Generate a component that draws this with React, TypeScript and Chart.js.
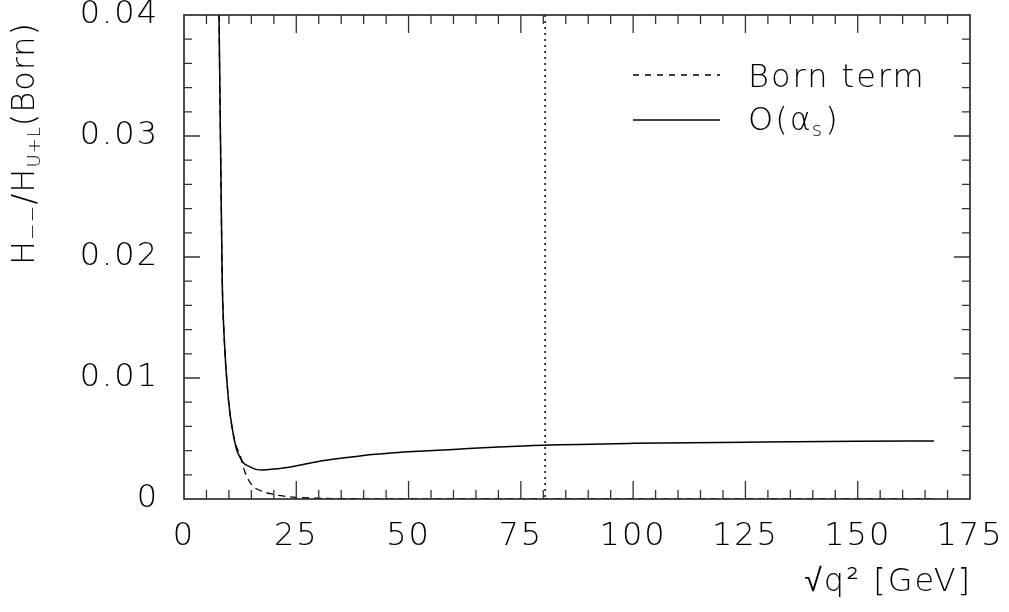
import React, { useEffect, useRef } from 'react';
import { Chart, registerables } from 'chart.js';

Chart.register(...registerables);

// ---- data ----
const bornX = [7.6, 7.8, 8.2, 8.5, 8.9, 9.9, 10.9, 11.7, 12.4, 13.5, 15, 17, 19.7, 22, 25, 30, 35, 40, 50, 60, 80, 100, 125, 150, 167];
const bornY = [0.05, 0.04, 0.0274, 0.0183, 0.0137, 0.0082, 0.0055, 0.0043, 0.0037, 0.0023, 0.0012, 0.0007, 0.0004, 0.00025, 0.00014, 0.00006, 0.00003, 0.00001, 0, 0, 0, 0, 0, 0, 0];

const nloX = [7.6, 7.8, 8.2, 8.5, 8.9, 9.9, 10.9, 11.7, 12.4, 13.2, 14.5, 16, 17.6, 20, 23, 26.5, 30, 34, 40, 46, 50, 60, 70, 80, 100, 125, 150, 167];
const nloY = [0.05, 0.04, 0.0274, 0.0183, 0.0137, 0.0082, 0.0055, 0.0041, 0.0035, 0.0030, 0.0027, 0.00245, 0.0024, 0.00247, 0.0026, 0.00285, 0.0031, 0.00332, 0.0036, 0.0038, 0.0039, 0.0041, 0.0043, 0.00445, 0.0046, 0.0047, 0.00478, 0.0048];

const xMin = 0;
const xMax = 175;
const xMajorStep = 25;
const xMinorStep = 5;
const yMin = 0;
const yMax = 0.04;
const yMajorStep = 0.01;
const yMinorStep = 0.002;
const wMass = 80.4;

const seriesLabels = ['Born term', 'O(αs)'];
const xTitle = '√q² [GeV]';

const FONT_FAMILY = '"DejaVu Sans", "Liberation Sans", sans-serif';
const FONT_WEIGHT = '200';
const font = (size: number) => `${FONT_WEIGHT} ${size}px ${FONT_FAMILY}`;

const spacingPlugin = {
  id: 'spacing',
  beforeDraw(chart: any) {
    (chart.ctx as any).letterSpacing = '2px';
  },
};

const decorPlugin = {
  id: 'decor',
  afterDatasetsDraw(chart: any) {
    const { ctx, chartArea } = chart;
    const { left, right, top, bottom } = chartArea;
    const xs = chart.scales.x;
    const ys = chart.scales.y;
    ctx.save();

    // W mass dotted line
    ctx.strokeStyle = '#000';
    ctx.lineWidth = 1.5;
    ctx.setLineDash([2, 4]);
    const wx = xs.getPixelForValue(wMass);
    ctx.beginPath();
    ctx.moveTo(wx, top);
    ctx.lineTo(wx, bottom);
    ctx.stroke();
    ctx.setLineDash([]);

    // frame
    ctx.strokeStyle = '#222';
    ctx.lineWidth = 1.6;
    ctx.strokeRect(left, top, right - left, bottom - top);

    // ticks
    ctx.lineWidth = 1.3;
    ctx.strokeStyle = '#333';
    const nx = Math.round((xMax - xMin) / xMinorStep);
    const perMajorX = Math.round(xMajorStep / xMinorStep);
    for (let i = 1; i < nx; i++) {
      const v = xMin + i * xMinorStep;
      const px = xs.getPixelForValue(v);
      const len = i % perMajorX === 0 ? 18 : 9;
      ctx.beginPath();
      ctx.moveTo(px, bottom);
      ctx.lineTo(px, bottom - len);
      ctx.moveTo(px, top);
      ctx.lineTo(px, top + len);
      ctx.stroke();
    }
    const ny = Math.round((yMax - yMin) / yMinorStep);
    const perMajorY = Math.round(yMajorStep / yMinorStep);
    for (let i = 1; i < ny; i++) {
      const v = yMin + i * yMinorStep;
      const py = ys.getPixelForValue(v);
      const len = i % perMajorY === 0 ? 16 : 8;
      ctx.beginPath();
      ctx.moveTo(left, py);
      ctx.lineTo(left + len, py);
      ctx.moveTo(right, py);
      ctx.lineTo(right - len, py);
      ctx.stroke();
    }

    // legend
    ctx.letterSpacing = '2px';
    ctx.fillStyle = '#000';
    ctx.strokeStyle = '#000';
    ctx.textAlign = 'left';
    ctx.textBaseline = 'alphabetic';
    // Born term
    ctx.lineWidth = 1.3;
    ctx.setLineDash([6, 6]);
    ctx.beginPath();
    ctx.moveTo(633, 75);
    ctx.lineTo(720, 75);
    ctx.stroke();
    ctx.setLineDash([]);
    ctx.font = font(32);
    ctx.fillText(seriesLabels[0], 748, 87);
    // O(alpha_s)
    ctx.lineWidth = 1.5;
    ctx.beginPath();
    ctx.moveTo(633, 120);
    ctx.lineTo(720, 120);
    ctx.stroke();
    let lx = 748;
    const ly = 130;
    ctx.font = font(32);
    ctx.fillText('O(', lx, ly);
    lx += ctx.measureText('O(').width;
    ctx.fillText('α', lx, ly);
    lx += ctx.measureText('α').width - 1;
    ctx.font = font(20);
    ctx.fillText('s', lx, ly + 6);
    lx += ctx.measureText('s').width + 1;
    ctx.font = font(32);
    ctx.fillText(')', lx, ly);

    // x title
    ctx.font = font(32);
    ctx.textAlign = 'right';
    ctx.fillText(xTitle, 972, 591);

    // y title (rotated)
    ctx.save();
    ctx.letterSpacing = '1px';
    ctx.translate(34, 265);
    ctx.rotate(-Math.PI / 2);
    ctx.textAlign = 'left';
    let tx = 0;
    const part = (txt: string, size: number, dy: number) => {
      ctx.font = font(size);
      ctx.fillText(txt, tx, dy);
      tx += ctx.measureText(txt).width;
    };
    part('H', 32, 0);
    part('−−', 20, 5);
    part('/', 32, 0);
    part('H', 32, 0);
    part('U+L', 18, 6);
    part('(Born)', 32, 0);
    ctx.restore();

    ctx.restore();
  },
};

export default function App() {
  const ref = useRef<HTMLCanvasElement | null>(null);
  useEffect(() => {
    if (!ref.current) return;
    const bornData = bornX.map((x, i) => ({ x, y: bornY[i] }));
    const nloData = nloX.map((x, i) => ({ x, y: nloY[i] }));
    const chart = new Chart(ref.current, {
      type: 'line',
      data: {
        datasets: [
          {
            label: seriesLabels[0],
            data: bornData,
            borderColor: '#000',
            borderWidth: 1.3,
            borderDash: [7, 5],
            pointRadius: 0,
            fill: false,
            cubicInterpolationMode: 'monotone',
          },
          {
            label: seriesLabels[1],
            data: nloData,
            borderColor: '#000',
            borderWidth: 1.5,
            pointRadius: 0,
            fill: false,
            cubicInterpolationMode: 'monotone',
          },
        ],
      },
      options: {
        responsive: false,
        animation: false,
        devicePixelRatio: 1,
        layout: { padding: { left: 0, right: 39, top: 15, bottom: 0 } },
        plugins: { legend: { display: false }, tooltip: { enabled: false }, title: { display: false } },
        scales: {
          x: {
            type: 'linear',
            min: xMin,
            max: xMax,
            grid: { display: false, drawTicks: false },
            border: { display: false },
            ticks: {
              stepSize: xMajorStep,
              padding: 18,
              color: '#000',
              font: { family: FONT_FAMILY, size: 32, weight: FONT_WEIGHT as any },
              maxRotation: 0,
              autoSkip: false,
              callback: (v: any) => String(v),
            },
            afterFit: (s: any) => {
              s.height = 113;
              s.paddingLeft = 0;
              s.paddingRight = 0;
            },
          },
          y: {
            type: 'linear',
            min: yMin,
            max: yMax,
            grid: { display: false, drawTicks: false },
            border: { display: false },
            ticks: {
              stepSize: yMajorStep,
              padding: 25,
              color: '#000',
              font: { family: FONT_FAMILY, size: 32, weight: FONT_WEIGHT as any },
              autoSkip: false,
              callback: (v: any) => (Math.abs(v) < 1e-12 ? '0' : Number(v).toFixed(2)),
            },
            afterFit: (s: any) => {
              s.width = 184;
              s.paddingTop = 0;
              s.paddingBottom = 0;
            },
          },
        },
      },
      plugins: [spacingPlugin, decorPlugin],
    } as any);
    return () => chart.destroy();
  }, []);
  return (
    <div style={{ position: 'absolute', left: 0, top: 0, width: 1009, height: 612, background: '#fff' }}>
      <canvas ref={ref} width={1009} height={612} />
    </div>
  );
}
